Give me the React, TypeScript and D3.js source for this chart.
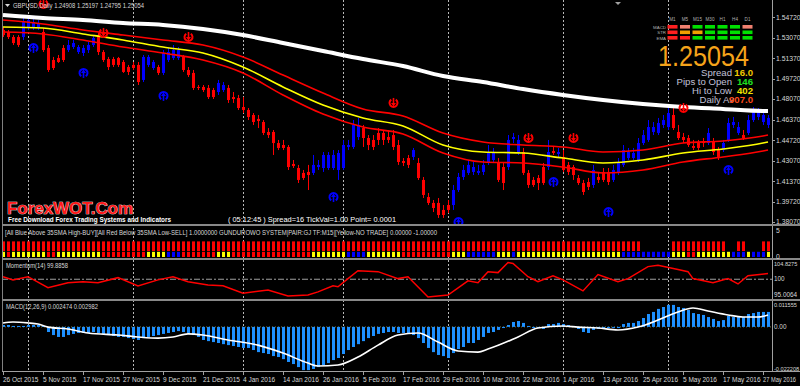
import React from 'react';
import * as d3 from 'd3';

const FONT = '"Liberation Sans", Arial, sans-serif';

// ---- price bars (daily GBPUSD) ----
const opens = [
  1.5368, 1.5352, 1.5311, 1.5311, 1.5311, 1.5384, 1.5392, 1.5384, 1.5352, 1.5222,
  1.5124, 1.5140, 1.5222, 1.5205, 1.5230, 1.5189, 1.5181, 1.5205, 1.5246, 1.5327,
  1.5189, 1.5132, 1.5132, 1.5140, 1.5108, 1.5067, 1.5084, 1.5084, 1.4962, 1.5084,
  1.5059, 1.5067, 1.5019, 1.5124, 1.5140, 1.5140, 1.5149, 1.5043, 1.5019, 1.4905,
  1.4905, 1.4897, 1.4880, 1.4864, 1.4880, 1.4897, 1.4823, 1.4815, 1.4742, 1.4718,
  1.4677, 1.4645, 1.4620, 1.4539, 1.4539, 1.4449, 1.4433, 1.4417, 1.4279, 1.4246,
  1.4206, 1.4214, 1.4206, 1.4254, 1.4246, 1.4246, 1.4246, 1.4230, 1.4246, 1.4417,
  1.4417, 1.4498, 1.4571, 1.4490, 1.4474, 1.4531, 1.4531, 1.4498, 1.4514, 1.4433,
  1.4303, 1.4327, 1.4336, 1.4287, 1.4149, 1.4010, 1.3962, 1.3962, 1.3905, 1.3945,
  1.3945, 1.4067, 1.4173, 1.4206, 1.4214, 1.4206, 1.4214, 1.4287, 1.4311, 1.4295,
  1.4254, 1.4254, 1.4482, 1.4368, 1.4376, 1.4206, 1.4149, 1.4165, 1.4254, 1.4254,
  1.4384, 1.4360, 1.4336, 1.4271, 1.4254, 1.4165, 1.4124, 1.4132, 1.4108, 1.4173,
  1.4214, 1.4214, 1.4149, 1.4206, 1.4271, 1.4327, 1.4327, 1.4311, 1.4449, 1.4474,
  1.4539, 1.4531, 1.4596, 1.4579, 1.4677, 1.4539, 1.4498, 1.4490, 1.4425, 1.4449,
  1.4458, 1.4449, 1.4458, 1.4392, 1.4392, 1.4474, 1.4596, 1.4531, 1.4514, 1.4531,
  1.4636, 1.4661, 1.4620, 1.4596,
];
const highs = [
  1.5392, 1.5368, 1.5327, 1.5327, 1.5466, 1.5490, 1.5466, 1.5449, 1.5384, 1.5246,
  1.5149, 1.5165, 1.5246, 1.5287, 1.5287, 1.5246, 1.5246, 1.5271, 1.5327, 1.5344,
  1.5205, 1.5149, 1.5149, 1.5149, 1.5124, 1.5084, 1.5108, 1.5108, 1.5165, 1.5165,
  1.5124, 1.5084, 1.5205, 1.5222, 1.5246, 1.5230, 1.5165, 1.5067, 1.5043, 1.4921,
  1.4921, 1.4921, 1.4897, 1.4962, 1.4945, 1.4921, 1.4864, 1.4840, 1.4823, 1.4734,
  1.4693, 1.4677, 1.4636, 1.4571, 1.4555, 1.4474, 1.4474, 1.4433, 1.4311, 1.4271,
  1.4230, 1.4271, 1.4352, 1.4311, 1.4376, 1.4376, 1.4392, 1.4392, 1.4474, 1.4474,
  1.4636, 1.4653, 1.4596, 1.4514, 1.4514, 1.4571, 1.4555, 1.4555, 1.4555, 1.4474,
  1.4327, 1.4352, 1.4409, 1.4327, 1.4173, 1.4043, 1.3986, 1.4002, 1.3945, 1.3986,
  1.4108, 1.4206, 1.4271, 1.4311, 1.4295, 1.4271, 1.4311, 1.4433, 1.4409, 1.4327,
  1.4287, 1.4514, 1.4531, 1.4514, 1.4409, 1.4230, 1.4173, 1.4189, 1.4287, 1.4474,
  1.4417, 1.4409, 1.4392, 1.4295, 1.4271, 1.4189, 1.4149, 1.4165, 1.4271, 1.4214,
  1.4246, 1.4246, 1.4271, 1.4327, 1.4433, 1.4409, 1.4409, 1.4490, 1.4555, 1.4636,
  1.4620, 1.4653, 1.4677, 1.4758, 1.4734, 1.4596, 1.4531, 1.4514, 1.4474, 1.4474,
  1.4490, 1.4571, 1.4490, 1.4417, 1.4474, 1.4653, 1.4661, 1.4620, 1.4555, 1.4677,
  1.4742, 1.4734, 1.4718, 1.4677,
];
const lows = [
  1.5311, 1.5295, 1.5246, 1.5230, 1.5287, 1.5368, 1.5368, 1.5368, 1.5189, 1.5027,
  1.5043, 1.5100, 1.5108, 1.5189, 1.5214, 1.5173, 1.5157, 1.5181, 1.5230, 1.5165,
  1.5108, 1.5043, 1.5067, 1.5067, 1.5019, 1.5002, 1.5043, 1.4921, 1.4945, 1.5067,
  1.5043, 1.5002, 1.5002, 1.5108, 1.5124, 1.5124, 1.5027, 1.4986, 1.4880, 1.4880,
  1.4864, 1.4807, 1.4807, 1.4840, 1.4864, 1.4775, 1.4775, 1.4718, 1.4693, 1.4636,
  1.4596, 1.4571, 1.4514, 1.4490, 1.4352, 1.4392, 1.4392, 1.4230, 1.4246, 1.4124,
  1.4149, 1.4067, 1.4189, 1.4230, 1.4214, 1.4230, 1.4230, 1.4149, 1.4230, 1.4392,
  1.4401, 1.4474, 1.4417, 1.4392, 1.4392, 1.4433, 1.4433, 1.4449, 1.4392, 1.4271,
  1.4262, 1.4246, 1.4311, 1.4149, 1.4002, 1.3945, 1.3888, 1.3840, 1.3840, 1.3880,
  1.3905, 1.4051, 1.4149, 1.4189, 1.4189, 1.4189, 1.4189, 1.4271, 1.4295, 1.4132,
  1.4067, 1.4230, 1.4449, 1.4352, 1.4189, 1.4084, 1.4092, 1.4067, 1.4108, 1.4230,
  1.4352, 1.4327, 1.4214, 1.4189, 1.4149, 1.4108, 1.4027, 1.4067, 1.4084, 1.4124,
  1.4132, 1.4108, 1.4132, 1.4189, 1.4254, 1.4311, 1.4311, 1.4295, 1.4433, 1.4458,
  1.4514, 1.4514, 1.4571, 1.4555, 1.4555, 1.4474, 1.4449, 1.4417, 1.4392, 1.4392,
  1.4417, 1.4433, 1.4352, 1.4311, 1.4376, 1.4458, 1.4571, 1.4514, 1.4474, 1.4514,
  1.4620, 1.4636, 1.4596, 1.4571,
];
const closes = [
  1.5327, 1.5311, 1.5262, 1.5246, 1.5433, 1.5449, 1.5433, 1.5425, 1.5205, 1.5043,
  1.5059, 1.5108, 1.5124, 1.5246, 1.5262, 1.5230, 1.5222, 1.5246, 1.5303, 1.5189,
  1.5124, 1.5067, 1.5084, 1.5084, 1.5027, 1.5027, 1.5059, 1.4945, 1.5149, 1.5149,
  1.5108, 1.5019, 1.5181, 1.5189, 1.5205, 1.5205, 1.5043, 1.5002, 1.4897, 1.4897,
  1.4880, 1.4823, 1.4823, 1.4937, 1.4921, 1.4799, 1.4807, 1.4734, 1.4718, 1.4661,
  1.4620, 1.4628, 1.4531, 1.4514, 1.4449, 1.4409, 1.4409, 1.4254, 1.4262, 1.4149,
  1.4165, 1.4189, 1.4271, 1.4271, 1.4352, 1.4352, 1.4352, 1.4368, 1.4433, 1.4433,
  1.4596, 1.4596, 1.4490, 1.4433, 1.4417, 1.4474, 1.4474, 1.4474, 1.4417, 1.4295,
  1.4287, 1.4271, 1.4392, 1.4165, 1.4027, 1.3962, 1.3921, 1.3864, 1.3864, 1.3905,
  1.4067, 1.4173, 1.4230, 1.4271, 1.4254, 1.4222, 1.4271, 1.4368, 1.4368, 1.4149,
  1.4124, 1.4474, 1.4498, 1.4474, 1.4206, 1.4108, 1.4108, 1.4124, 1.4124, 1.4376,
  1.4368, 1.4376, 1.4230, 1.4214, 1.4189, 1.4124, 1.4051, 1.4092, 1.4230, 1.4149,
  1.4149, 1.4132, 1.4230, 1.4287, 1.4392, 1.4376, 1.4368, 1.4449, 1.4514, 1.4579,
  1.4579, 1.4612, 1.4636, 1.4693, 1.4571, 1.4490, 1.4474, 1.4433, 1.4409, 1.4409,
  1.4449, 1.4531, 1.4376, 1.4336, 1.4449, 1.4612, 1.4620, 1.4579, 1.4490, 1.4636,
  1.4701, 1.4701, 1.4677, 1.4653,
];

// moving averages, read every 8 bars
const maBars = [0, 8, 16, 24, 32, 40, 48, 56, 64, 72, 80, 88, 96, 104, 112, 120, 128, 136, 144, 152, 153];
const smaSlow = [1.5490, 1.5466, 1.5449, 1.5425, 1.5409, 1.5376, 1.5327, 1.5262, 1.5197, 1.5132, 1.5075, 1.4994, 1.4945, 1.4888, 1.4840, 1.4799, 1.4766, 1.4742, 1.4726, 1.4710, 1.4710];
const smaHigh = [1.5449, 1.5417, 1.5368, 1.5327, 1.5287, 1.5246, 1.5149, 1.5002, 1.4856, 1.4726, 1.4669, 1.4531, 1.4458, 1.4433, 1.4417, 1.4376, 1.4392, 1.4449, 1.4466, 1.4506, 1.4514];
const smaClose = [1.5392, 1.5384, 1.5336, 1.5287, 1.5230, 1.5181, 1.5067, 1.4905, 1.4758, 1.4653, 1.4588, 1.4433, 1.4376, 1.4368, 1.4327, 1.4287, 1.4311, 1.4368, 1.4401, 1.4449, 1.4458];
const smaLow = [1.5352, 1.5336, 1.5287, 1.5230, 1.5181, 1.5124, 1.5019, 1.4840, 1.4685, 1.4579, 1.4523, 1.4368, 1.4295, 1.4287, 1.4254, 1.4206, 1.4230, 1.4295, 1.4336, 1.4384, 1.4392];

// signal arrows
const buyBars = [6, 16, 32, 66, 91, 110, 121, 145];
const buyPrices = [1.5222, 1.5019, 1.4832, 1.4010, 1.3807, 1.4132, 1.3888, 1.4230];
const sellBars = [8, 20, 37, 78, 105, 114, 136];
const sellPrices = [1.5579, 1.5344, 1.5311, 1.4775, 1.4490, 1.4490, 1.4734];

// GUNDUROWO histogram (run lengths)
const gundTopRuns: [number, number][] = [[1, 128], [0, 6], [1, 11], [0, 2], [1, 2], [0, 3], [1, 2]];
const gundBottomRuns: [string, number][] = [
  ['Y', 1], ['R', 1], ['Y', 7], ['R', 2], ['Y', 9], ['R', 9], ['Y', 4], ['B', 3], ['R', 7], ['Y', 3],
  ['R', 16], ['Y', 7], ['B', 4], ['Y', 7], ['R', 10], ['Y', 3], ['B', 6], ['Y', 3], ['B', 1], ['Y', 21],
  ['B', 10], ['Y', 3], ['R', 2], ['Y', 7], ['B', 3], ['Y', 1], ['B', 3], ['Y', 1],
];

// Momentum(14)
const momBars = [0, 2, 5, 9, 13, 16, 19, 23, 27, 31, 34, 37, 41, 44, 48, 53, 57, 61, 63, 66, 67, 69, 71, 75, 79, 81, 85, 89, 93, 95, 97, 99, 101, 102, 105, 107, 110, 112, 116, 119, 123, 125, 129, 131, 135, 137, 138, 142, 145, 147, 149, 153];
const momVals = [100.8, 99.8, 100.8, 97.3, 98.9, 99.2, 98.9, 100.5, 97.9, 99.8, 100.8, 99.2, 98.2, 97.9, 95.6, 96.6, 94.7, 95.0, 96.0, 97.9, 97.6, 100.2, 102.7, 102.4, 100.2, 100.8, 94.4, 95.0, 99.5, 98.9, 102.4, 102.1, 105.3, 105.0, 100.8, 99.2, 101.1, 99.8, 96.3, 101.5, 99.2, 100.2, 104.0, 104.4, 103.1, 102.4, 100.2, 98.9, 100.2, 98.5, 101.1, 101.8];

// MACD(12,26,9)
const macdHist = [
  0.0010, 0.0010, 0.0005, 0.0005, 0.0005, 0.0010, 0.0010, 0.0010, 0.0005, -0.0027,
  -0.0043, -0.0053, -0.0053, -0.0043, -0.0037, -0.0032, -0.0032, -0.0032, -0.0027, -0.0032,
  -0.0037, -0.0043, -0.0048, -0.0053, -0.0053, -0.0059, -0.0064, -0.0069, -0.0059, -0.0053,
  -0.0048, -0.0043, -0.0037, -0.0032, -0.0027, -0.0022, -0.0027, -0.0032, -0.0043, -0.0053,
  -0.0069, -0.0075, -0.0080, -0.0085, -0.0091, -0.0096, -0.0101, -0.0106, -0.0111, -0.0111,
  -0.0122, -0.0133, -0.0138, -0.0143, -0.0154, -0.0159, -0.0170, -0.0185, -0.0196, -0.0212,
  -0.0228, -0.0228, -0.0222, -0.0212, -0.0201, -0.0191, -0.0175, -0.0164, -0.0143, -0.0122,
  -0.0106, -0.0091, -0.0075, -0.0059, -0.0048, -0.0037, -0.0032, -0.0027, -0.0027, -0.0032,
  -0.0032, -0.0032, -0.0043, -0.0059, -0.0085, -0.0111, -0.0133, -0.0148, -0.0154, -0.0164,
  -0.0138, -0.0117, -0.0106, -0.0085, -0.0085, -0.0069, -0.0053, -0.0032, -0.0027, -0.0016,
  -0.0006, 0.0010, 0.0026, 0.0031, 0.0021, 0.0005, -0.0006, -0.0001, -0.0011, 0.0015,
  0.0015, 0.0021, 0.0015, 0.0010, 0.0005, -0.0011, -0.0027, -0.0032, -0.0016, -0.0011,
  -0.0011, -0.0006, -0.0001, -0.0006, 0.0015, 0.0021, 0.0021, 0.0031, 0.0047, 0.0068,
  0.0079, 0.0095, 0.0105, 0.0116, 0.0116, 0.0105, 0.0100, 0.0089, 0.0073, 0.0068,
  0.0063, 0.0052, 0.0042, 0.0031, 0.0036, 0.0058, 0.0052, 0.0052, 0.0052, 0.0068,
  0.0073, 0.0079, 0.0079, 0.0079,
];
const signalBars = [0, 2, 5, 7, 9, 13, 17, 23, 27, 31, 34, 37, 40, 45, 51, 56, 61, 63, 67, 71, 75, 79, 83, 87, 91, 95, 97, 103, 107, 112, 115, 119, 123, 127, 131, 135, 138, 141, 145, 148, 151, 153];
const signalVals = [0.0021, 0.0026, 0.0021, 0.0015, -0.0001, -0.0011, -0.0032, -0.0043, -0.0053, -0.0059, -0.0053, -0.0037, -0.0043, -0.0069, -0.0096, -0.0138, -0.0191, -0.0206, -0.0201, -0.0159, -0.0096, -0.0043, -0.0032, -0.0080, -0.0127, -0.0133, -0.0117, -0.0053, -0.0006, 0.0005, -0.0001, -0.0006, -0.0016, -0.0001, 0.0036, 0.0079, 0.0100, 0.0084, 0.0063, 0.0052, 0.0052, 0.0063];

// axes
const dateLabels = ['26 Oct 2015', '5 Nov 2015', '17 Nov 2015', '27 Nov 2015', '9 Dec 2015', '21 Dec 2015', '4 Jan 2016', '14 Jan 2016', '26 Jan 2016', '5 Feb 2016', '17 Feb 2016', '29 Feb 2016', '10 Mar 2016', '22 Mar 2016', '1 Apr 2016', '13 Apr 2016', '25 Apr 2016', '5 May 2016', '17 May 2016', '27 May 2016'];
const dateBars = [0, 8, 16, 24, 32, 40, 48, 56, 64, 72, 80, 88, 96, 104, 112, 120, 128, 136, 144, 152];
const monthBars = [5, 26, 48, 68, 89, 112, 133];
const priceTicks = [1.5472, 1.5307, 1.5137, 1.4972, 1.4807, 1.4637, 1.4472, 1.4307, 1.4137, 1.3972, 1.3807];
const gundTicks = [5, 0];
const momTicks = [104.8275, 100, 95.0064];
const momTickLabels = ['104.8275', '100', '95.0064'];
const macdTicks = [0.011555, 0, -0.022208];
const macdTickLabels = ['0.011555', '0.00', '-0.022208'];

// dashboard panel
const tfLabels = ['M1', 'M5', 'M15', 'M30', 'H1', 'H4', 'D1'];
const tfRows = ['MACD', 'STR', 'EMA'];
const tfColors = [
  ['#ff2020', '#f08070', '#00e000', '#00e000', '#00e000', '#00e000', '#f08070'],
  ['#ff2020', '#f0a000', '#f0a000', '#00e000', '#00e000', '#00e000', '#00e000'],
  ['#ff2020', '#ff2020', '#00e000', '#00e000', '#00e000', '#00e000', '#00e000'],
];
const statLabels = ['Spread', 'Pips to Open', 'Hi to Low', 'Daily Av'];
const statValues = ['16.0', '146', '402', '907.0'];
const statColors = ['#f0c800', '#20e020', '#f0e000', '#ff4a1a'];

const expand = <T,>(runs: [T, number][]) => runs.flatMap(([v, n]) => Array(n).fill(v) as T[]);
const gundTop = expand(gundTopRuns);
const gundBottom = expand(gundBottomRuns);
const gundColor: Record<string, string> = { Y: '#ffff00', R: '#ff0000', B: '#0000ff' };

// scales
const x = d3.scaleLinear().domain([0, 153]).range([3, 768]);
const yP = d3.scaleLinear().domain([1.3807, 1.5612]).range([222, 0]);
const yG = d3.scaleLinear().domain([0, 5]).range([257, 231]);
const yM = d3.scaleLinear().domain([95.0064, 104.8275]).range([295, 264]);
const yD = d3.scaleLinear().domain([-0.022208, 0.011555]).range([369, 305]);
const tfX = d3.scalePoint().domain(tfLabels).range([672.5, 747.5]);

const px = (i: number) => Math.round(x(i)) + 0.5;

const maLine = (vals: number[]) =>
  d3.line<number>().x((_, k) => x(maBars[k])).y(d => yP(d)).curve(d3.curveMonotoneX)(vals) || '';

const buyRing = d3.arc()({ innerRadius: 3, outerRadius: 5, startAngle: -Math.PI + 0.6, endAngle: Math.PI - 0.6 } as any) || '';
const sellRing = d3.arc()({ innerRadius: 3, outerRadius: 5, startAngle: 0.6, endAngle: 2 * Math.PI - 0.6 } as any) || '';

const App: React.FC = () => {
  const momPath = d3.line<number>().x((_, k) => x(momBars[k])).y(d => yM(d))(momVals) || '';
  const sigPath = d3.line<number>().x((_, k) => x(signalBars[k])).y(d => yD(d)).curve(d3.curveMonotoneX)(signalVals) || '';
  const txt = { fill: '#d8d8d8', fontSize: 6.8, fontFamily: FONT };
  // long sub-window scale labels are squeezed to stay inside the axis strip
  const axisTxt = (s: string) => ({ ...txt, fontSize: s.length > 7 ? 5.6 : 6.4 });

  return (
    <svg width={800} height={386} style={{ position: 'absolute', left: 0, top: 0, background: '#000' }}>
      <defs>
        <clipPath id="mainClip"><rect x={2} y={0} width={770} height={224} /></clipPath>
        <clipPath id="subClip"><rect x={2} y={226} width={770} height={146} /></clipPath>
      </defs>
      <rect width={800} height={386} fill="#000" />

      {/* month grid */}
      {monthBars.map(b => (
        <line key={b} x1={px(b)} x2={px(b)} y1={0} y2={371} stroke="#b8b8b8" strokeDasharray="2,2" />
      ))}

      {/* main pane */}
      <g clipPath="url(#mainClip)">
        {closes.map((c, i) => {
          const o = opens[i];
          const col = c >= o ? '#0000ff' : '#ff0000';
          const top = yP(Math.max(o, c));
          const bot = yP(Math.min(o, c));
          return (
            <g key={i}>
              <line x1={px(i)} x2={px(i)} y1={yP(highs[i])} y2={yP(lows[i])} stroke={col} />
              <rect x={px(i) - 1.5} y={top} width={3} height={Math.max(1, bot - top)} fill={col} />
            </g>
          );
        })}
        <path d={maLine(smaSlow)} fill="none" stroke="#ffffff" strokeWidth={4} />
        <path d={maLine(smaHigh)} fill="none" stroke="#ff0000" strokeWidth={1.6} />
        <path d={maLine(smaLow)} fill="none" stroke="#ff0000" strokeWidth={1.6} />
        <path d={maLine(smaClose)} fill="none" stroke="#ffff00" strokeWidth={1.6} />

        {buyBars.map((b, k) => (
          <g key={'b' + k} transform={`translate(${px(b)},${yP(buyPrices[k])})`} fill="#0000ff">
            <path d={buyRing} />
            <path d="M0,-3.5L-2.5,0L2.5,0Z" />
            <rect x={-0.8} y={0} width={1.6} height={5} />
          </g>
        ))}
        {sellBars.map((b, k) => (
          <g key={'s' + k} transform={`translate(${px(b)},${yP(sellPrices[k])})`} fill="#ff0000">
            <path d={sellRing} />
            <path d="M0,3.5L-2.5,0L2.5,0Z" />
            <rect x={-0.8} y={-5} width={1.6} height={5} />
          </g>
        ))}

        {/* watermark + info line */}
        <text x={7} y={214} fontFamily={FONT} fontWeight="bold" fontSize={17} fill="#ff1a1a" stroke="#ffffff" strokeWidth={0.7}
          textLength={126} lengthAdjust="spacingAndGlyphs" style={{ paintOrder: 'stroke' }}>ForexWOT.Com</text>
        <text x={8} y={222} fontFamily={FONT} fontWeight="bold" fontSize={6.3} fill="#ffffff" textLength={163} lengthAdjust="spacingAndGlyphs">
          Free Download Forex Trading Systems and Indicators</text>
        <text x={228} y={222} {...txt} fill="#ffffff" textLength={168} lengthAdjust="spacingAndGlyphs">
          ( 05:12:45 )  Spread=16  TickVal=1.00  Point= 0.0001</text>
      </g>

      {/* header */}
      <path d="M5,4L10,4L7.5,7Z" fill="#d8d8d8" />
      <text x={13} y={8} {...txt} textLength={131} lengthAdjust="spacingAndGlyphs">GBPUSD,Daily  1.24908 1.25197 1.24795 1.25054</text>
      <path d="M615,2L621,2L618,5Z" fill="#a0a0a0" />

      {/* dashboard */}
      {tfLabels.map(t => (
        <text key={t} x={tfX(t)} y={21} fontFamily={FONT} fontSize={4.6} fill="#b0b0b0" textAnchor="middle">{t}</text>
      ))}
      {tfRows.map((r, ri) => (
        <g key={r}>
          <text x={666} y={28.5 + ri * 5.5} fontFamily={FONT} fontSize={4.4} fill="#b0b0b0" textAnchor="end">{r}</text>
          {tfLabels.map((t, ci) => (
            <rect key={t} x={(tfX(t) as number) - 5} y={25 + ri * 5.5} width={10} height={3.6} fill={tfColors[ri][ci]} />
          ))}
        </g>
      ))}
      <text x={749} y={66} fontFamily={FONT} fontSize={30} fill="#f5a31a" textAnchor="end" textLength={91} lengthAdjust="spacingAndGlyphs">1.25054</text>
      {statLabels.map((s, k) => (
        <g key={s}>
          <text x={k === 3 ? 734 : 732} y={76 + k * 9} fontFamily={FONT} fontSize={9.6} fill="#c0c0d8" textAnchor="end">{s}</text>
          <text x={753} y={76 + k * 9} fontFamily={FONT} fontSize={9.6} fontWeight="bold" fill={statColors[k]} textAnchor="end">{statValues[k]}</text>
        </g>
      ))}

      {/* sub windows */}
      <g clipPath="url(#subClip)">
        {gundBottom.map((c, i) => (
          <g key={i}>
            {gundTop[i] === 1 && (
              <rect x={px(i) - 1.5} y={yG(3)} width={3} height={yG(1) - yG(3) - 0.8} fill="#ff0000" />
            )}
            <rect x={px(i) - 1.5} y={yG(1)} width={3} height={yG(0) - yG(1)} fill={gundColor[c]} />
          </g>
        ))}

        <line x1={2} x2={772} y1={yM(100)} y2={yM(100)} stroke="#a0a0a0" strokeDasharray="6,2,2,2" />
        <path d={momPath} fill="none" stroke="#ff0000" strokeWidth={1.5} />

        <line x1={2} x2={772} y1={yD(0)} y2={yD(0)} stroke="#707040" strokeDasharray="1,2" />
        {macdHist.map((v, i) => (
          <rect key={i} x={px(i) - 1.5} y={Math.min(yD(0), yD(v))} width={3} height={Math.max(1, Math.abs(yD(v) - yD(0)))} fill="#1e90ff" />
        ))}
        <path d={sigPath} fill="none" stroke="#ffffff" strokeWidth={1.6} />
      </g>

      <text x={5} y={235} {...txt} textLength={432} lengthAdjust="spacingAndGlyphs">
        [All Blue Above 35SMA High-BUY][All Red Below 35SMA Low-SELL] 1.0000000  GUNDUROWO SYSTEM|PAIR:GJ TF:M15|[Yellow-NO TRADE] 0.00000 -1.00000</text>
      <text x={6} y={268} {...txt} textLength={62} lengthAdjust="spacingAndGlyphs">Momentum(14) 99.8858</text>
      <text x={6} y={309} {...txt} textLength={92} lengthAdjust="spacingAndGlyphs">MACD(12,26,9) 0.002474 0.002982</text>

      {/* frame and separators */}
      <line x1={2.5} x2={2.5} y1={0} y2={372} stroke="#808080" />
      <line x1={772.5} x2={772.5} y1={0} y2={372} stroke="#a0a0a0" />
      {[224, 258, 299].map(y => (
        <rect key={y} x={2} y={y} width={798} height={2} fill="#888888" />
      ))}
      <line x1={2} x2={800} y1={371.5} y2={371.5} stroke="#a0a0a0" />

      {/* right axis labels */}
      {priceTicks.map(p => (
        <g key={p}>
          <line x1={772} x2={775} y1={Math.round(yP(p)) + 0.5} y2={Math.round(yP(p)) + 0.5} stroke="#a0a0a0" />
          <text x={776} y={yP(p) + 2.4} {...txt}>{d3.format('.5f')(p)}</text>
        </g>
      ))}
      {gundTicks.map(v => (
        <text key={v} x={776} y={yG(v) + 2.4} {...txt}>{v}</text>
      ))}
      {momTicks.map((v, k) => (
        <text key={v} x={774} y={yM(v) + 2.2} {...axisTxt(momTickLabels[k])}>{momTickLabels[k]}</text>
      ))}
      {macdTicks.map((v, k) => (
        <text key={v} x={774} y={yD(v) + 2.2} {...axisTxt(macdTickLabels[k])}>{macdTickLabels[k]}</text>
      ))}

      {/* date axis */}
      {dateBars.map((b, k) => (
        <g key={b}>
          <line x1={px(b)} x2={px(b)} y1={372} y2={375} stroke="#a0a0a0" />
          <text x={px(b) - 0.5} y={382} {...txt} fontSize={6.5}
            {...(k === dateBars.length - 1 ? { textLength: 33, lengthAdjust: 'spacingAndGlyphs' } : {})}>{dateLabels[k]}</text>
        </g>
      ))}
    </svg>
  );
};

export default App;
